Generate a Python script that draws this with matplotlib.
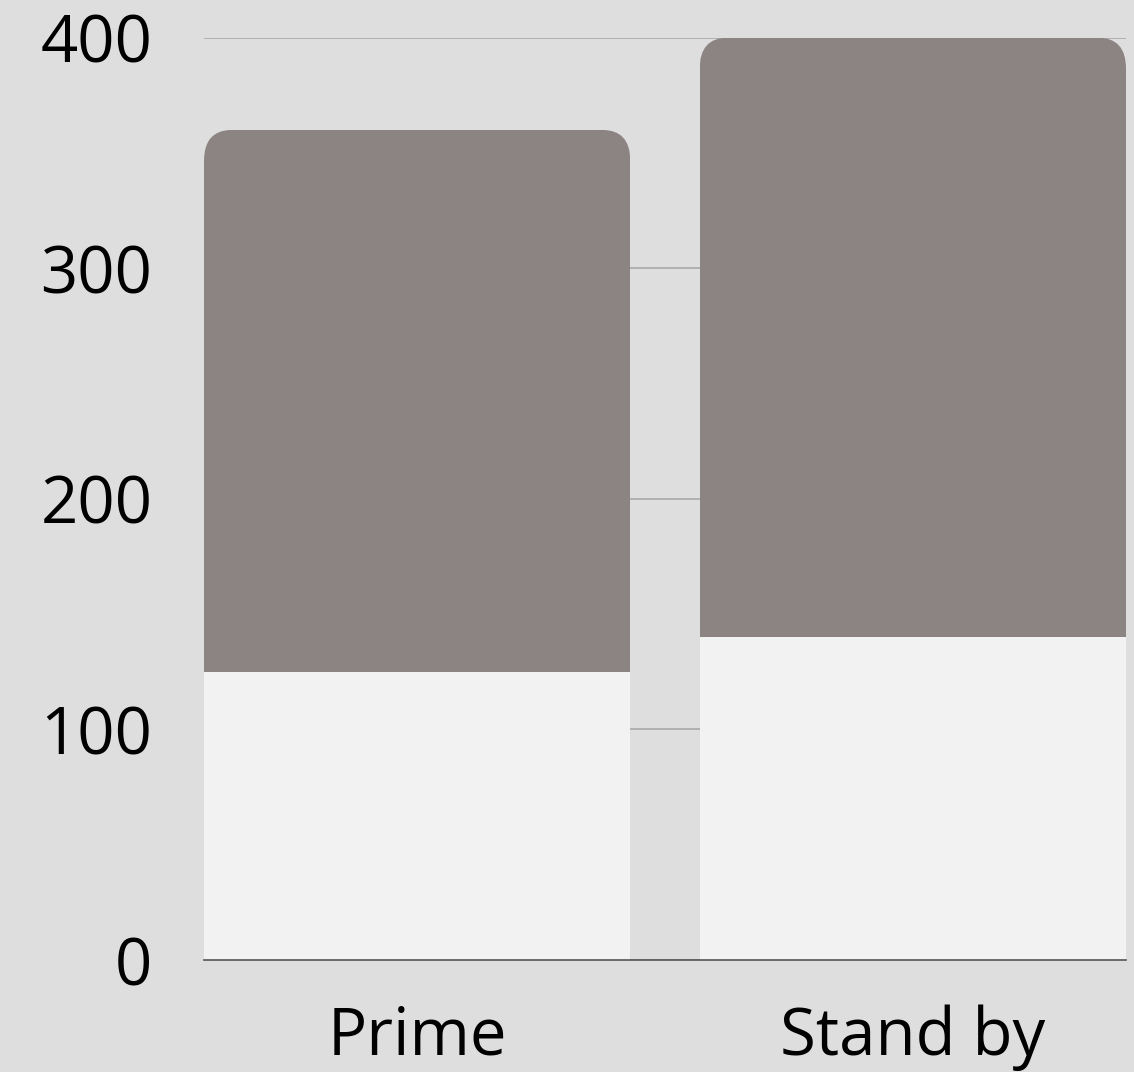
import matplotlib
matplotlib.use("Agg")
import matplotlib.pyplot as plt
from matplotlib.patches import FancyBboxPatch

categories = ["Prime", "Stand by"]
lower_values = [125, 140]
upper_values = [235, 260]
y_ticks = [0, 100, 200, 300, 400]

BG = "#dedede"
LOWER_COLOR = "#f2f2f2"
UPPER_COLOR = "#8c8482"

plt.rcParams['font.family'] = ['Open Sans', 'DejaVu Sans']

W, H, DPI = 1134, 1072, 100
fig = plt.figure(figsize=(W / DPI, H / DPI), dpi=DPI, facecolor=BG)
ax = fig.add_axes([204 / W, 112 / H, 922 / W, 922.3 / H])
ax.set_facecolor(BG)

x = list(range(len(categories)))
width = 0.86
ax.set_xlim(-0.43, 1.43)
ax.set_ylim(0, 400)

bars_low = ax.bar(x, lower_values, width=width, color=LOWER_COLOR, zorder=3, linewidth=0)
bars_up = ax.bar(x, upper_values, width=width, bottom=lower_values, color=UPPER_COLOR,
                 zorder=3, linewidth=0)

# rounded top corners
rx_px, ry_px = 28, 31
x_per_px = 1.86 / 922
y_per_px = 400 / 922.3
rs = rx_px * x_per_px
aspect = (ry_px * y_per_px) / (rx_px * x_per_px)
for b in bars_up:
    extra = 60 * y_per_px
    clip = FancyBboxPatch((b.get_x(), b.get_y() - extra), b.get_width(), b.get_height() + extra,
                          boxstyle=f"round,pad=0,rounding_size={rs}",
                          mutation_aspect=aspect, transform=ax.transData,
                          facecolor="none", edgecolor="none")
    ax.add_patch(clip)
    b.set_clip_path(clip)

ax.set_yticks(y_ticks)
ax.set_yticklabels([str(t) for t in y_ticks])
ax.set_xticks(x)
ax.set_xticklabels(categories)

ax.yaxis.grid(True, color="#a8a8a8", linewidth=1.2, zorder=0)
ax.set_axisbelow(True)
for s in ["top", "right", "left"]:
    ax.spines[s].set_visible(False)
ax.spines["bottom"].set_color("#555555")
ax.spines["bottom"].set_linewidth(1.2)
ax.spines["bottom"].set_zorder(4)

ax.tick_params(axis="y", length=0, pad=37, labelsize=47, labelcolor="black")
ax.tick_params(axis="x", length=0, pad=32, labelsize=47, labelcolor="black")

fig.savefig("out.png", dpi=DPI, facecolor=BG)
